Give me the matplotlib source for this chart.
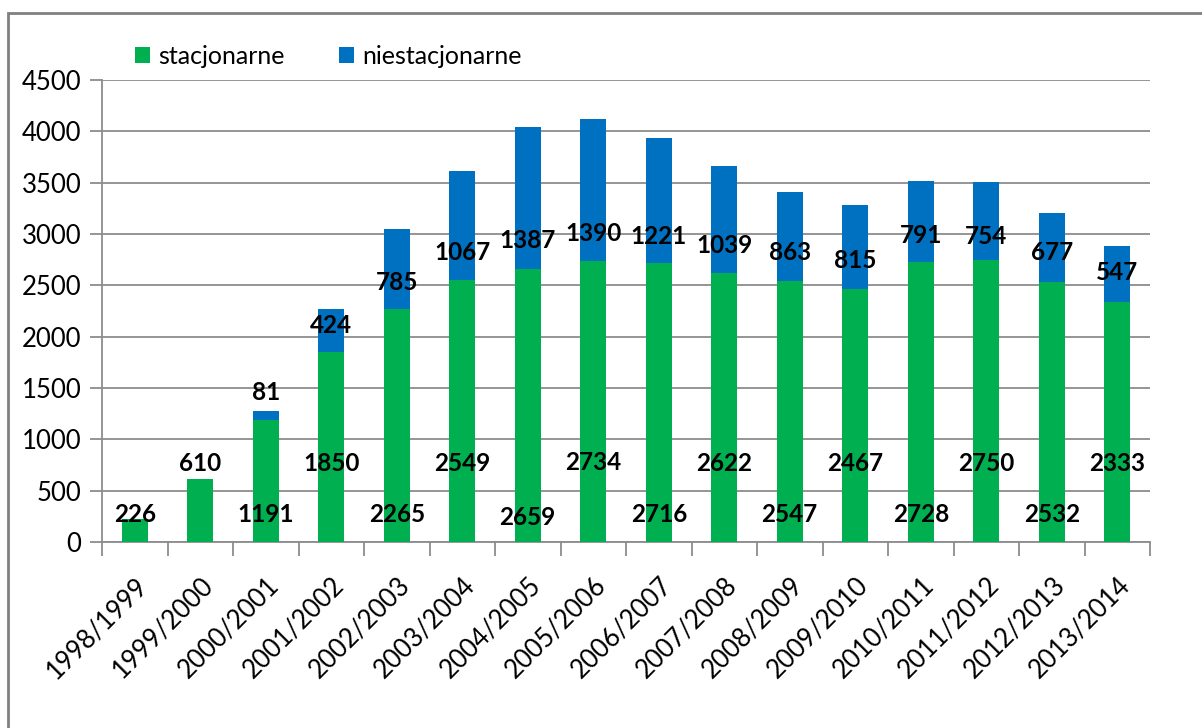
import numpy as np
import matplotlib.pyplot as plt
from matplotlib.patches import Rectangle

years = ['1998/1999', '1999/2000', '2000/2001', '2001/2002', '2002/2003',
         '2003/2004', '2004/2005', '2005/2006', '2006/2007', '2007/2008',
         '2008/2009', '2009/2010', '2010/2011', '2011/2012', '2012/2013',
         '2013/2014']
stacjonarne = [226, 610, 1191, 1850, 2265, 2549, 2659, 2734, 2716, 2622,
               2547, 2467, 2728, 2750, 2532, 2333]
niestacjonarne = [0, 0, 81, 424, 785, 1067, 1387, 1390, 1221, 1039,
                  863, 815, 791, 754, 677, 547]

# hand-placed label heights (data units), as in the original chart
green_label_y = [263, 769, 263, 769, 263, 769, 243, 775,
                 263, 769, 263, 769, 263, 769, 263, 769]
blue_label_y = [None, None, 1460, 2113, 2532, 2824, 2941, 3009,
                2980, 2892, 2824, 2746, 2990, 2980, 2824, 2629]

green = '#00B050'
blue = '#0070C0'
grid_c = '#8C8C8C'
plt.rcParams['font.family'] = ['Lato', 'DejaVu Sans']

fig = plt.figure(figsize=(12.02, 7.28), dpi=100)
ax = fig.add_axes([102 / 1202, 1 - 542 / 728, 1048 / 1202, 462 / 728])

x = np.arange(len(years))
ax.bar(x, stacjonarne, width=0.4, color=green, label='stacjonarne', zorder=3)
ax.bar(x, niestacjonarne, width=0.4, bottom=stacjonarne, color=blue,
       label='niestacjonarne', zorder=3)

for i in range(len(years)):
    ax.text(x[i], green_label_y[i], str(stacjonarne[i]), ha='center',
            va='center', fontsize=17.5, fontweight='bold', zorder=4)
    if blue_label_y[i] is not None:
        ax.text(x[i], blue_label_y[i], str(niestacjonarne[i]), ha='center',
                va='center', fontsize=17.5, fontweight='bold', zorder=4)

ax.set_xlim(-0.5, len(years) - 0.5)
ax.set_ylim(0, 4500)
ax.set_yticks(np.arange(0, 4501, 500))
ax.yaxis.grid(True, color=grid_c, linewidth=1.3)
ax.set_axisbelow(True)
ax.tick_params(axis='y', labelsize=18.5, length=9, color=grid_c, width=1.3, pad=6)

ax.set_xticks(x)
ax.set_xticklabels(years, rotation=45, ha='right', rotation_mode='anchor',
                   fontsize=18.5)
ax.set_xticks(np.arange(-0.5, len(years)), minor=True)
ax.tick_params(axis='x', which='major', length=0, pad=22)
ax.tick_params(axis='x', which='minor', length=10, color=grid_c, width=1.3)

for side in ['top', 'right']:
    ax.spines[side].set_visible(False)
for side in ['left', 'bottom']:
    ax.spines[side].set_color(grid_c)
    ax.spines[side].set_linewidth(1.3)

ax.legend(loc='lower left', bbox_to_anchor=(0.02, 1.0), ncol=2, frameon=False,
          fontsize=18, handlelength=0.6, handleheight=0.6, handletextpad=0.3,
          columnspacing=2.2, borderaxespad=0.1)

fig.patches.append(Rectangle((8 / 1202, -0.05), 1.1, 1.05 - 13 / 728,
                             transform=fig.transFigure, fill=False,
                             edgecolor='#808080', linewidth=2))

fig.savefig('out.png', dpi=100)
